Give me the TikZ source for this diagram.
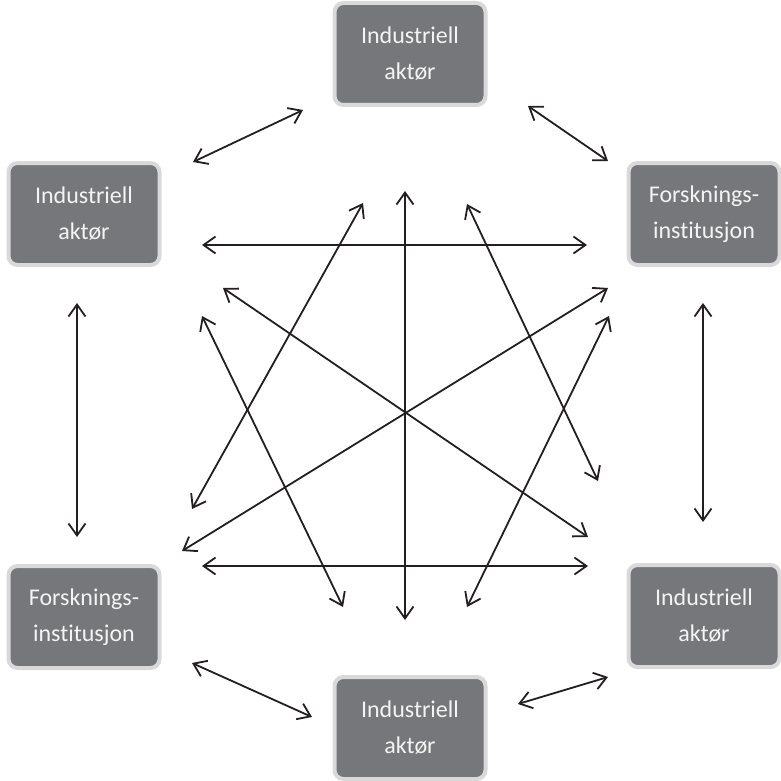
\documentclass[tikz,border=0pt]{standalone}
\usepackage{fontspec}
\setmainfont{Carlito}[Ligatures=NoCommon]
\usetikzlibrary{arrows.meta}
\definecolor{boxfill}{HTML}{76777B}
\definecolor{boxedge}{HTML}{D9D9D9}
\definecolor{boxtext}{HTML}{F4F4F4}
\definecolor{arrowcol}{HTML}{231F20}
\tikzset{
  actor/.style={draw=boxedge, line width=4pt, fill=boxfill, rounded corners=9pt,
    minimum width=151pt, minimum height=102pt, align=center, text=boxtext,
    font=\fontsize{24}{36}\selectfont, inner sep=0pt},
  link/.style={draw=arrowcol, line width=1.8pt,
    {Straight Barb[length=12pt,width=17pt,line width=1.8pt]}-{Straight Barb[length=12pt,width=17pt,line width=1.8pt]}}
}
\begin{document}
\begin{tikzpicture}[x=1pt,y=-1pt]
\useasboundingbox (0,0) rectangle (781,781);
% boxes
\node[actor] (T)  at (410,54)  {Industriell\\aktør};
\node[actor] (L)  at (84,214)  {Industriell\\aktør};
\node[actor] (R)  at (704,214) {Forsknings-\\institusjon};
\node[actor] (BL) at (84,617)  {Forsknings-\\institusjon};
\node[actor] (BR) at (704,616) {Industriell\\aktør};
\node[actor] (B)  at (410,728) {Industriell\\aktør};
% arrow end points
\coordinate (a1s) at (193,162); \coordinate (a1e) at (303,110);
\coordinate (a2s) at (528,106); \coordinate (a2e) at (608,161);
\coordinate (a3s) at (202,245); \coordinate (a3e) at (587,245);
\coordinate (a4s) at (77,303);  \coordinate (a4e) at (77,537);
\coordinate (a5s) at (703,303); \coordinate (a5e) at (703,522);
\coordinate (a6s) at (202,566); \coordinate (a6e) at (588,566);
\coordinate (a7s) at (192,663); \coordinate (a7e) at (312,717);
\coordinate (a8s) at (518,704); \coordinate (a8e) at (608,677);
\coordinate (a9s) at (405,191); \coordinate (a9e) at (405,620);
\coordinate (a10s) at (223,288); \coordinate (a10e) at (588,537);
\coordinate (a11s) at (182,551); \coordinate (a11e) at (608,288);
\coordinate (a12s) at (192,509); \coordinate (a12e) at (363,203);
\coordinate (a13s) at (202,316); \coordinate (a13e) at (343,607);
\coordinate (a14s) at (467,204); \coordinate (a14e) at (598,481);
\coordinate (a15s) at (467,607); \coordinate (a15e) at (609,316);
% arrows
\foreach \i in {1,...,15}{
  \draw[link] (a\i s) -- (a\i e);
}
\end{tikzpicture}
\end{document}
